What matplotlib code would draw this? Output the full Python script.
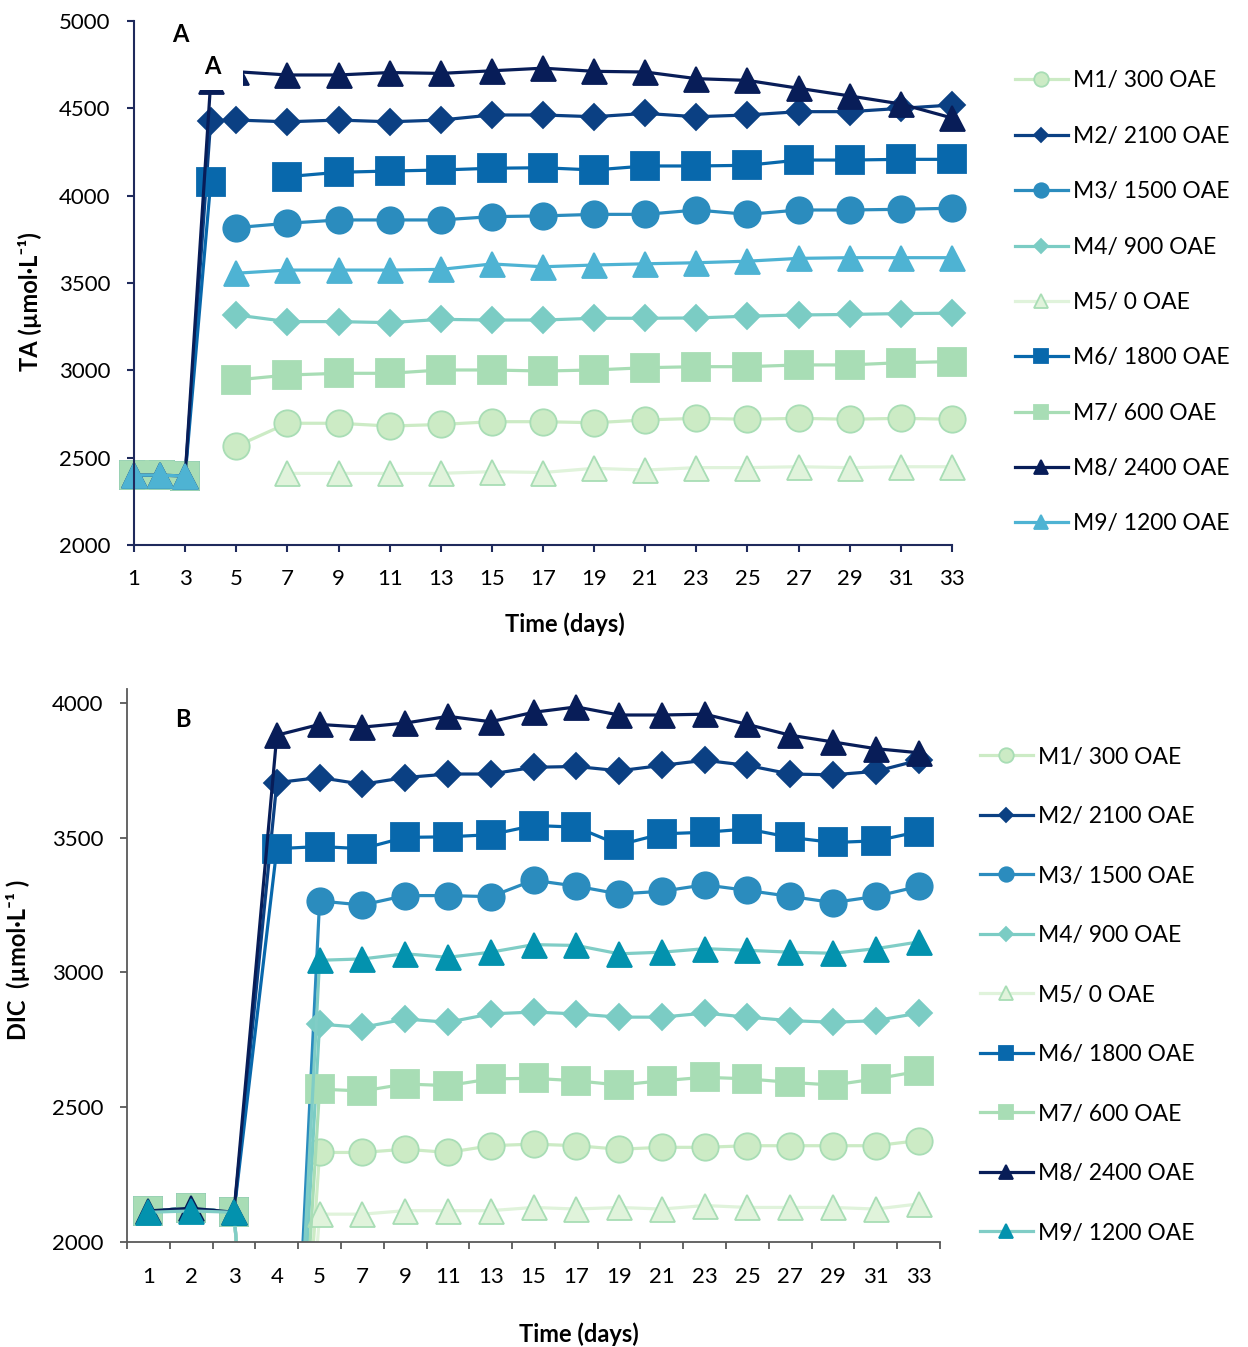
import numpy as np
import matplotlib
matplotlib.use("Agg")
import matplotlib.pyplot as plt
from matplotlib.patches import Rectangle

plt.rcParams['font.family'] = ['Lato', 'DejaVu Sans']

days = [1, 2, 3, 4, 5, 7, 9, 11, 13, 15, 17, 19, 21, 23, 25, 27, 29, 31, 33]
nan = np.nan

labels = ['M1/ 300 OAE', 'M2/ 2100 OAE', 'M3/ 1500 OAE', 'M4/ 900 OAE', 'M5/ 0 OAE',
          'M6/ 1800 OAE', 'M7/ 600 OAE', 'M8/ 2400 OAE', 'M9/ 1200 OAE']

# panel A - total alkalinity
ta_m1 = [2400, 2400, 2395, nan, 2565, 2697, 2697, 2681, 2690, 2706, 2706, 2700, 2716, 2725, 2720, 2725, 2720, 2725, 2720]
ta_m2 = [2400, 2400, 2395, 4430, 4433, 4423, 4433, 4423, 4433, 4462, 4462, 4452, 4471, 4452, 4462, 4481, 4481, 4500, 4519]
ta_m3 = [2400, 2400, 2395, nan, 3817, 3842, 3861, 3861, 3861, 3880, 3884, 3893, 3893, 3918, 3893, 3918, 3918, 3922, 3928]
ta_m4 = [2400, 2400, 2395, nan, 3317, 3279, 3279, 3273, 3292, 3288, 3288, 3298, 3298, 3300, 3310, 3317, 3320, 3325, 3327]
ta_m5 = [2400, 2400, 2395, nan, nan, 2410, 2410, 2410, 2410, 2420, 2415, 2439, 2429, 2443, 2443, 2448, 2443, 2448, 2448]
ta_m6 = [2400, 2400, 2395, 4078, nan, 4109, 4134, 4141, 4147, 4157, 4160, 4147, 4170, 4170, 4174, 4204, 4204, 4208, 4208]
ta_m7 = [2400, 2400, 2395, nan, 2945, 2973, 2983, 2983, 3002, 3002, 2996, 3002, 3015, 3021, 3021, 3031, 3031, 3044, 3050]
ta_m8 = [2400, 2400, 2395, 4655, 4710, 4691, 4691, 4705, 4700, 4715, 4730, 4712, 4708, 4670, 4660, 4615, 4571, 4525, 4445]
ta_m9 = [2400, 2400, 2395, nan, 3556, 3574, 3574, 3574, 3578, 3609, 3593, 3603, 3610, 3616, 3625, 3641, 3645, 3645, 3645]

# panel B - dissolved inorganic carbon
dic_m1 = [2115, 2125, 2110, 0, 2332, 2332, 2344, 2332, 2357, 2363, 2357, 2344, 2351, 2351, 2357, 2357, 2357, 2357, 2376]
dic_m2 = [2115, 2125, 2110, 3704, 3723, 3698, 3723, 3736, 3736, 3761, 3764, 3748, 3768, 3787, 3768, 3736, 3733, 3746, 3787]
dic_m3 = [2115, 2125, 2110, 0, 3265, 3250, 3285, 3285, 3281, 3342, 3320, 3291, 3301, 3325, 3304, 3282, 3259, 3282, 3319]
dic_m4 = [2115, 2125, 2110, 0, 2808, 2796, 2827, 2815, 2846, 2853, 2846, 2834, 2834, 2849, 2834, 2821, 2815, 2821, 2849]
dic_m5 = [2115, 2125, 2110, 0, 2103, 2103, 2116, 2116, 2116, 2128, 2122, 2128, 2122, 2135, 2128, 2128, 2128, 2122, 2141]
dic_m6 = [2115, 2125, 2110, 3459, 3467, 3459, 3501, 3503, 3511, 3545, 3539, 3473, 3514, 3520, 3532, 3501, 3482, 3488, 3522]
dic_m7 = [2115, 2125, 2110, 0, 2567, 2560, 2586, 2580, 2605, 2607, 2598, 2582, 2598, 2611, 2605, 2592, 2582, 2605, 2633]
dic_m8 = [2115, 2125, 2110, 3880, 3920, 3910, 3925, 3950, 3930, 3965, 3985, 3955, 3955, 3958, 3920, 3880, 3855, 3830, 3815]
dic_m9 = [2110, 2115, 2110, 0, 3045, 3050, 3069, 3056, 3075, 3103, 3100, 3069, 3075, 3088, 3082, 3075, 3071, 3088, 3113]

ta_all = [ta_m1, ta_m2, ta_m3, ta_m4, ta_m5, ta_m6, ta_m7, ta_m8, ta_m9]
dic_all = [dic_m1, dic_m2, dic_m3, dic_m4, dic_m5, dic_m6, dic_m7, dic_m8, dic_m9]

# style per series: (line color, marker, marker face, marker edge, size)
styles = [
    ('#ccebc5', 'o', '#ccebc5', '#a8ddb5', 19),
    ('#0b4083', 'D', '#0b4083', '#0b4083', 13.5),
    ('#2b8cbe', 'o', '#2b8cbe', '#2b8cbe', 19),
    ('#7bccc4', 'D', '#7bccc4', '#7bccc4', 13.5),
    ('#e0f3db', '^', '#e0f3db', '#a8ddb5', 18),
    ('#0868ac', 's', '#0868ac', '#0868ac', 19.5),
    ('#a8ddb5', 's', '#a8ddb5', '#a8ddb5', 19.5),
    ('#081d58', '^', '#081d58', '#081d58', 18),
    ('#4eb3d3', '^', '#4eb3d3', '#4eb3d3', 18),
]
m9_b_line = '#80cdc6'
m9_b_marker = '#0392ae'

fs = 16       # tick labels
lfs = 16.5    # legend
afs = 17      # axis titles

fig = plt.figure(figsize=(12.48, 13.47), dpi=100)

# ---------------- panel A ----------------
axA = fig.add_axes([0.1074, 0.5954, 0.6554, 0.389])
for i, vals in enumerate(ta_all):
    lc, mk, mf, me, ms = styles[i]
    axA.plot(days, vals, color=lc, lw=2.3, marker=mk, markersize=ms,
             markerfacecolor=mf, markeredgecolor=me, markeredgewidth=1.3,
             label=labels[i], clip_on=False)

axA.set_xlim(1, 33)
axA.set_ylim(2000, 5000)
axA.set_xticks(range(1, 34, 2))
axA.set_yticks(range(2000, 5001, 500))
axA.spines['top'].set_visible(False)
axA.spines['right'].set_visible(False)
for s in ['left', 'bottom']:
    axA.spines[s].set_color('#1f2a5c')
    axA.spines[s].set_linewidth(1.5)
axA.tick_params(axis='both', direction='out', color='#1f2a5c', width=1.5, length=5,
                labelsize=fs)
axA.tick_params(axis='x', pad=12)
axA.tick_params(axis='y', pad=12)
axA.set_xlabel('Time (days)', fontsize=afs, fontweight='bold')
axA.xaxis.set_label_coords(0.527, -0.128)
axA.set_ylabel('TA (µmol·L⁻¹)', fontsize=afs, fontweight='bold')
axA.yaxis.set_label_coords(-0.113, 0.465)

# white text box behind the second "A" that hides part of M8
axA.add_patch(Rectangle((3.5, 4605), 1.76, 270, facecolor='white', edgecolor='none',
                        zorder=5, clip_on=False))
axA.text(2.8, 4920, 'A', fontsize=17, fontweight='bold', ha='center', va='center', zorder=6)
axA.text(4.05, 4737, 'A', fontsize=17, fontweight='bold', ha='center', va='center', zorder=6)

axA.legend(loc='upper left', bbox_to_anchor=(0.8133, 0.9477),
           bbox_transform=fig.transFigure, frameon=False, fontsize=lfs,
           handlelength=2.3, handletextpad=0.25, labelspacing=1.5,
           markerscale=0.55, borderpad=0, borderaxespad=0)

# ---------------- panel B ----------------
axB = fig.add_axes([0.1018, 0.078, 0.6514, 0.4102])
xpos = np.arange(len(days))
for i, vals in enumerate(dic_all):
    lc, mk, mf, me, ms = styles[i]
    if i == 8:
        lc, mf, me = m9_b_line, m9_b_marker, m9_b_marker
    axB.plot(xpos, vals, color=lc, lw=2.3, marker=mk, markersize=ms,
             markerfacecolor=mf, markeredgecolor=me, markeredgewidth=1.3,
             label=labels[i])

axB.set_xlim(-0.5, len(days) - 0.5)
axB.set_ylim(2000, 4050)
axB.set_yticks(range(2000, 4001, 500))
axB.set_xticks(np.arange(-0.5, len(days), 1))
axB.set_xticklabels([])
axB.set_xticks(xpos, minor=True)
axB.set_xticklabels([str(d) for d in days], minor=True)
axB.spines['top'].set_visible(False)
axB.spines['right'].set_visible(False)
for s in ['left', 'bottom']:
    axB.spines[s].set_color('#595959')
    axB.spines[s].set_linewidth(1.3)
axB.tick_params(axis='both', which='major', direction='out', color='#595959', width=1.3,
                length=5, labelsize=fs, pad=12)
axB.tick_params(axis='x', which='minor', length=0, labelsize=fs, pad=18)
axB.set_xlabel('Time (days)', fontsize=afs, fontweight='bold')
axB.xaxis.set_label_coords(0.556, -0.145)
axB.set_ylabel('DIC  (µmol·L⁻¹ )', fontsize=afs, fontweight='bold')
axB.yaxis.set_label_coords(-0.119, 0.51)
axB.text(0.81, 3937, 'B', fontsize=17, fontweight='bold', ha='center', va='center')

axB.legend(loc='upper left', bbox_to_anchor=(0.7853, 0.4458),
           bbox_transform=fig.transFigure, frameon=False, fontsize=lfs,
           handlelength=2.3, handletextpad=0.25, labelspacing=1.68,
           markerscale=0.55, borderpad=0, borderaxespad=0)

fig.savefig('out.png', dpi=100)
